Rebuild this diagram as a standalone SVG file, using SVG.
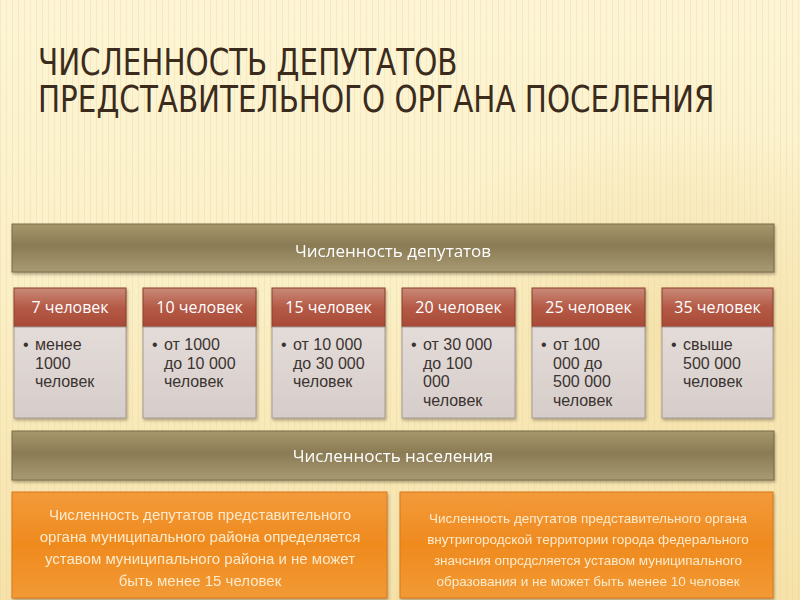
<svg xmlns="http://www.w3.org/2000/svg" width="800" height="600" viewBox="0 0 800 600">
<defs>
<linearGradient id="bg" x1="0" y1="0" x2="0" y2="1">
<stop offset="0" stop-color="#fdf5d6"/>
<stop offset="0.5" stop-color="#fbefc6"/>
<stop offset="1" stop-color="#f6e2a8"/>
</linearGradient>
<pattern id="stripes" width="6" height="600" patternUnits="userSpaceOnUse">
<rect x="0" y="0" width="1" height="600" fill="#e8d49a" opacity="0.35"/>
</pattern>
<linearGradient id="bar" x1="0" y1="0" x2="0" y2="1">
<stop offset="0" stop-color="#a6976c"/>
<stop offset="0.45" stop-color="#8a7b55"/>
<stop offset="1" stop-color="#a89a73"/>
</linearGradient>
<linearGradient id="hdr" x1="0" y1="0" x2="0" y2="1">
<stop offset="0" stop-color="#c98a78"/>
<stop offset="0.5" stop-color="#b45a46"/>
<stop offset="1" stop-color="#a84a38"/>
</linearGradient>
<linearGradient id="body" x1="0" y1="0" x2="0" y2="1">
<stop offset="0" stop-color="#e4dcd9"/>
<stop offset="1" stop-color="#d6cdca"/>
</linearGradient>
<linearGradient id="org" x1="0" y1="0" x2="0" y2="1">
<stop offset="0" stop-color="#f39a3a"/>
<stop offset="0.5" stop-color="#ef8a1e"/>
<stop offset="1" stop-color="#f29a35"/>
</linearGradient>
<radialGradient id="glow" cx="0.85" cy="0.55" r="0.35">
<stop offset="0" stop-color="#f2dca0" stop-opacity="0.7"/>
<stop offset="1" stop-color="#f2dca0" stop-opacity="0"/>
</radialGradient>
<filter id="sh" x="-5%" y="-10%" width="110%" height="130%">
<feDropShadow dx="1" dy="2" stdDeviation="1.5" flood-color="#5a4a30" flood-opacity="0.45"/>
</filter>
<linearGradient id="line" x1="0" y1="0" x2="1" y2="0">
<stop offset="0" stop-color="#e0a040" stop-opacity="0"/>
<stop offset="0.15" stop-color="#d8952c"/>
<stop offset="1" stop-color="#d8952c"/>
</linearGradient>
</defs>
<style>
.title{font-family:"DejaVu Sans Condensed","Liberation Sans Narrow","Liberation Sans",sans-serif;font-size:38px;fill:#3b2b1c}
.bt{font-family:"Open Sans","Liberation Sans",sans-serif;font-size:17px;fill:#ffffff;text-anchor:middle}
.ht{font-family:"Open Sans","Liberation Sans",sans-serif;font-size:16px;fill:#ffffff;text-anchor:middle}
.bd{font-family:"Liberation Sans",sans-serif;font-size:16px;fill:#3a3330}
.ot{font-family:"Liberation Sans",sans-serif;font-size:15px;fill:#fdeacb;text-anchor:middle}
.ot2{font-family:"Liberation Sans",sans-serif;font-size:13.5px;fill:#fdeacb;text-anchor:middle}
</style>
<rect width="800" height="600" fill="url(#bg)"/>
<rect width="800" height="600" fill="url(#stripes)"/>
<rect width="800" height="600" fill="url(#glow)"/>
<line x1="170" y1="89" x2="800" y2="89" stroke="url(#line)" stroke-width="2"/>
<g id="title">
<text class="title" transform="translate(38,0) scale(0.86,1)"><tspan x="0" y="75">ЧИСЛЕННОСТЬ ДЕПУТАТОВ</tspan><tspan x="0" y="112">ПРЕДСТАВИТЕЛЬНОГО ОРГАНА ПОСЕЛЕНИЯ</tspan></text>
</g>
<g id="connectors"></g>
<g id="deputies-bar" filter="url(#sh)">
<rect x="12" y="224" width="762" height="48" fill="url(#bar)" stroke="#7a6c48" stroke-width="1"/>
<text class="bt" x="393" y="257">Численность депутатов</text>
</g>
<g id="c1">
<rect x="14" y="288" width="112" height="39" fill="url(#hdr)" stroke="#8e3c2c" filter="url(#sh)"/>
<text class="ht" x="70" y="313">7 человек</text>
<rect x="14" y="327" width="112" height="91" fill="url(#body)" stroke="#a59c98" filter="url(#sh)"/>
<text class="bd"><tspan x="23" y="350">•</tspan><tspan x="35" y="350">менее</tspan><tspan x="35" y="368.5">1000</tspan><tspan x="35" y="387">человек</tspan></text>
</g>
<g id="c2">
<rect x="143" y="288" width="113" height="39" fill="url(#hdr)" stroke="#8e3c2c" filter="url(#sh)"/>
<text class="ht" x="199.5" y="313">10 человек</text>
<rect x="143" y="327" width="113" height="91" fill="url(#body)" stroke="#a59c98" filter="url(#sh)"/>
<text class="bd"><tspan x="152" y="350">•</tspan><tspan x="164" y="350">от 1000</tspan><tspan x="164" y="368.5">до 10 000</tspan><tspan x="164" y="387">человек</tspan></text>
</g>
<g id="c3">
<rect x="272" y="288" width="113" height="39" fill="url(#hdr)" stroke="#8e3c2c" filter="url(#sh)"/>
<text class="ht" x="328.5" y="313">15 человек</text>
<rect x="272" y="327" width="113" height="91" fill="url(#body)" stroke="#a59c98" filter="url(#sh)"/>
<text class="bd"><tspan x="281" y="350">•</tspan><tspan x="293" y="350">от 10 000</tspan><tspan x="293" y="368.5">до 30 000</tspan><tspan x="293" y="387">человек</tspan></text>
</g>
<g id="c4">
<rect x="402" y="288" width="113" height="39" fill="url(#hdr)" stroke="#8e3c2c" filter="url(#sh)"/>
<text class="ht" x="458.5" y="313">20 человек</text>
<rect x="402" y="327" width="113" height="91" fill="url(#body)" stroke="#a59c98" filter="url(#sh)"/>
<text class="bd"><tspan x="411" y="350">•</tspan><tspan x="423" y="350">от 30 000</tspan><tspan x="423" y="368.5">до 100</tspan><tspan x="423" y="387">000</tspan><tspan x="423" y="405.5">человек</tspan></text>
</g>
<g id="c5">
<rect x="532" y="288" width="113" height="39" fill="url(#hdr)" stroke="#8e3c2c" filter="url(#sh)"/>
<text class="ht" x="588.5" y="313">25 человек</text>
<rect x="532" y="327" width="113" height="91" fill="url(#body)" stroke="#a59c98" filter="url(#sh)"/>
<text class="bd"><tspan x="541" y="350">•</tspan><tspan x="553" y="350">от 100</tspan><tspan x="553" y="368.5">000 до</tspan><tspan x="553" y="387">500 000</tspan><tspan x="553" y="405.5">человек</tspan></text>
</g>
<g id="c6">
<rect x="662" y="288" width="111" height="39" fill="url(#hdr)" stroke="#8e3c2c" filter="url(#sh)"/>
<text class="ht" x="717.5" y="313">35 человек</text>
<rect x="662" y="327" width="111" height="91" fill="url(#body)" stroke="#a59c98" filter="url(#sh)"/>
<text class="bd"><tspan x="671" y="350">•</tspan><tspan x="683" y="350">свыше</tspan><tspan x="683" y="368.5">500 000</tspan><tspan x="683" y="387">человек</tspan></text>
</g>
<g id="population-bar" filter="url(#sh)">
<rect x="12" y="431" width="762" height="49" fill="url(#bar)" stroke="#7a6c48" stroke-width="1"/>
<text class="bt" x="393" y="462">Численность населения</text>
</g>
<g id="district" filter="url(#sh)">
<rect x="12" y="492" width="375" height="106" fill="url(#org)" stroke="#d9781a"/>
<text class="ot"><tspan x="200" y="520">Численность депутатов представительного</tspan><tspan x="200" y="542">органа муниципального района определяется</tspan><tspan x="200" y="564">уставом муниципального района и не может</tspan><tspan x="200" y="586">быть менее 15 человек</tspan></text>
</g>
<g id="city" filter="url(#sh)">
<rect x="400" y="492" width="373" height="106" fill="url(#org)" stroke="#d9781a"/>
<text class="ot2"><tspan x="588" y="523">Численность депутатов представительного органа</tspan><tspan x="588" y="544">внутригородской территории города федерального</tspan><tspan x="588" y="565">значсния опрсдсляется уставом муниципального</tspan><tspan x="588" y="586">образования и не может быть менее 10 человек</tspan></text>
</g>
</svg>
